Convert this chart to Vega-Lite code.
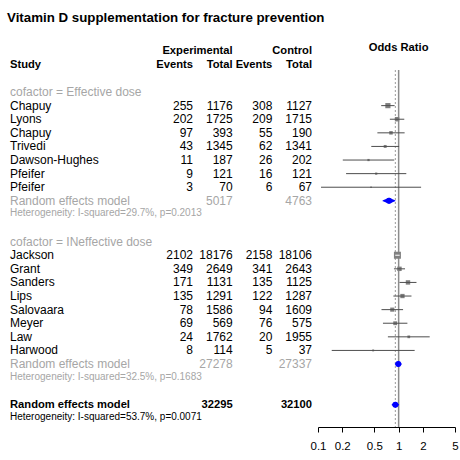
{
  "$schema": "https://vega.github.io/schema/vega-lite/v6.json",
  "width": 460,
  "height": 357,
  "autosize": "none",
  "padding": {"left": 0, "top": 70, "right": 0, "bottom": 33},
  "background": "white",
  "title": {
    "text": "Vitamin D supplementation for fracture prevention",
    "anchor": "start",
    "font": "Liberation Sans",
    "fontSize": 13.3,
    "fontWeight": "bold",
    "color": "black",
    "offset": 18,
    "dx": 7
  },
  "config": {
    "view": {"stroke": null},
    "font": "Liberation Sans",
    "text": {"font": "Liberation Sans", "baseline": "middle"}
  },
  "datasets": {
    "rows": [
      {"row": 0, "kind": "subgroup", "label": "cofactor = Effective dose"},
      {"row": 1, "kind": "study", "label": "Chapuy", "ee": 255, "et": 1176, "ce": 308, "ct": 1127, "or": 0.736, "lo": 0.608, "hi": 0.891, "weight": 11},
      {"row": 2, "kind": "study", "label": "Lyons", "ee": 202, "et": 1725, "ce": 209, "ct": 1715, "or": 0.956, "lo": 0.778, "hi": 1.175, "weight": 8},
      {"row": 3, "kind": "study", "label": "Chapuy", "ee": 97, "et": 393, "ce": 55, "ct": 190, "or": 0.804, "lo": 0.545, "hi": 1.186, "weight": 5},
      {"row": 4, "kind": "study", "label": "Trivedi", "ee": 43, "et": 1345, "ce": 62, "ct": 1341, "or": 0.681, "lo": 0.458, "hi": 1.013, "weight": 3.5},
      {"row": 5, "kind": "study", "label": "Dawson-Hughes", "ee": 11, "et": 187, "ce": 26, "ct": 202, "or": 0.423, "lo": 0.203, "hi": 0.882, "weight": 2},
      {"row": 6, "kind": "study", "label": "Pfeifer", "ee": 9, "et": 121, "ce": 16, "ct": 121, "or": 0.527, "lo": 0.223, "hi": 1.245, "weight": 2},
      {"row": 7, "kind": "study", "label": "Pfeifer", "ee": 3, "et": 70, "ce": 6, "ct": 67, "or": 0.455, "lo": 0.109, "hi": 1.899, "weight": 1},
      {"row": 8, "kind": "re", "label": "Random effects model", "et": 5017, "ct": 4763, "or": 0.76, "lo": 0.64, "hi": 0.9},
      {"row": 9, "kind": "het", "label": "Heterogeneity: I-squared=29.7%, p=0.2013"},
      {"row": 11, "kind": "subgroup", "label": "cofactor = INeffective dose"},
      {"row": 12, "kind": "study", "label": "Jackson", "ee": 2102, "et": 18176, "ce": 2158, "ct": 18106, "or": 0.966, "lo": 0.908, "hi": 1.03, "weight": 20},
      {"row": 13, "kind": "study", "label": "Grant", "ee": 349, "et": 2649, "ce": 341, "ct": 2643, "or": 1.024, "lo": 0.875, "hi": 1.2, "weight": 8},
      {"row": 14, "kind": "study", "label": "Sanders", "ee": 171, "et": 1131, "ce": 135, "ct": 1125, "or": 1.306, "lo": 1.025, "hi": 1.664, "weight": 8},
      {"row": 15, "kind": "study", "label": "Lips", "ee": 135, "et": 1291, "ce": 122, "ct": 1287, "or": 1.115, "lo": 0.861, "hi": 1.443, "weight": 7.5},
      {"row": 16, "kind": "study", "label": "Salovaara", "ee": 78, "et": 1586, "ce": 94, "ct": 1609, "or": 0.834, "lo": 0.613, "hi": 1.135, "weight": 7},
      {"row": 17, "kind": "study", "label": "Meyer", "ee": 69, "et": 569, "ce": 76, "ct": 575, "or": 0.906, "lo": 0.639, "hi": 1.284, "weight": 6},
      {"row": 18, "kind": "study", "label": "Law", "ee": 24, "et": 1762, "ce": 20, "ct": 1955, "or": 1.336, "lo": 0.736, "hi": 2.427, "weight": 3},
      {"row": 19, "kind": "study", "label": "Harwood", "ee": 8, "et": 114, "ce": 5, "ct": 37, "or": 0.483, "lo": 0.148, "hi": 1.58, "weight": 1.5},
      {"row": 20, "kind": "re", "label": "Random effects model", "et": 27278, "ct": 27337, "or": 0.99, "lo": 0.91, "hi": 1.08},
      {"row": 21, "kind": "het", "label": "Heterogeneity: I-squared=32.5%, p=0.1683"},
      {"row": 23, "kind": "overall", "label": "Random effects model", "et": 32295, "ct": 32100, "or": 0.91, "lo": 0.83, "hi": 1.0},
      {"row": 24, "kind": "ohet", "label": "Heterogeneity: I-squared=53.7%, p=0.0071"}
    ],
    "headers": [
      {"row": -2, "col": "study", "kind": "header", "text": "Study"},
      {"row": -3, "col": "et", "kind": "header", "text": "Experimental"},
      {"row": -3, "col": "ct", "kind": "header", "text": "Control"},
      {"row": -2, "col": "ee", "kind": "header", "text": "Events"},
      {"row": -2, "col": "et", "kind": "header", "text": "Total"},
      {"row": -2, "col": "ce", "kind": "header", "text": "Events"},
      {"row": -2, "col": "ct", "kind": "header", "text": "Total"},
      {"row": -3, "col": "forest", "kind": "header", "text": "Odds Ratio"}
    ]
  },
  "layer": [
    {
      "data": {"name": "rows"},
      "encoding": {
        "x": {"datum": "study", "type": "nominal", "scale": {"type": "point", "domain": ["study"], "range": [10, 10], "padding": 0}, "axis": null},
        "y": {"field": "row", "type": "quantitative", "scale": {"domain": [-1.62, 24.63], "reverse": true, "nice": false, "zero": false}, "axis": null},
        "color": {
          "field": "kind",
          "type": "nominal",
          "scale": {
            "domain": ["study", "subgroup", "re", "het", "overall", "ohet", "header"],
            "range": ["black", "#a6a6a6", "#a6a6a6", "#a6a6a6", "black", "black", "black"]
          },
          "legend": null
        }
      },
      "layer": [
        {
          "transform": [{"filter": "indexof(['study', 'subgroup', 're'], datum.kind) >= 0"}],
          "mark": {"type": "text", "align": "left", "fontSize": 12},
          "encoding": {"text": {"field": "label"}}
        },
        {
          "transform": [{"filter": "datum.kind === 'het' || datum.kind === 'ohet'"}],
          "mark": {"type": "text", "align": "left", "fontSize": 10, "dy": -1},
          "encoding": {"text": {"field": "label"}}
        },
        {
          "transform": [{"filter": "datum.kind === 'overall'"}],
          "mark": {"type": "text", "align": "left", "fontSize": 11.2, "fontWeight": "bold"},
          "encoding": {"text": {"field": "label"}}
        },
        {
          "data": {"name": "headers"},
          "transform": [{"filter": "datum.col === 'study'"}],
          "mark": {"type": "text", "align": "left", "fontSize": 11.2, "fontWeight": "bold"},
          "encoding": {"text": {"field": "text"}}
        }
      ]
    },
    {
      "data": {"name": "rows"},
      "encoding": {
        "x": {"field": "col", "type": "nominal", "scale": {"type": "point", "domain": ["ee", "et", "ce", "ct"], "range": [193, 312], "padding": 0}, "axis": null},
        "y": {"field": "row", "type": "quantitative", "scale": {"domain": [-1.62, 24.63], "reverse": true, "nice": false, "zero": false}, "axis": null},
        "color": {"field": "kind", "type": "nominal", "legend": null}
      },
      "layer": [
        {
          "transform": [
            {"fold": ["ee", "et", "ce", "ct"], "as": ["col", "n"]},
            {"filter": "isValid(datum.n) && datum.kind !== 'overall'"}
          ],
          "mark": {"type": "text", "align": "right", "fontSize": 12},
          "encoding": {"text": {"field": "n", "type": "nominal"}}
        },
        {
          "transform": [
            {"fold": ["ee", "et", "ce", "ct"], "as": ["col", "n"]},
            {"filter": "isValid(datum.n) && datum.kind === 'overall'"}
          ],
          "mark": {"type": "text", "align": "right", "fontSize": 11.2, "fontWeight": "bold"},
          "encoding": {"text": {"field": "n", "type": "nominal"}}
        },
        {
          "data": {"name": "headers"},
          "transform": [{"filter": "indexof(['ee', 'et', 'ce', 'ct'], datum.col) >= 0"}],
          "mark": {"type": "text", "align": "right", "fontSize": 11.2, "fontWeight": "bold"},
          "encoding": {"text": {"field": "text"}}
        }
      ]
    },
    {
      "data": {"name": "rows"},
      "layer": [
        {
          "data": {"values": [{}]},
          "mark": {"type": "rule", "color": "#8c8c8c", "strokeWidth": 1.5},
          "encoding": {
            "x": {
              "datum": 1,
              "type": "quantitative",
              "scale": {"type": "log", "domain": [0.1, 5], "range": [318, 455], "nice": false},
              "axis": {
                "values": [0.1, 0.2, 0.5, 1, 2, 5],
                "format": "~g",
                "title": null,
                "grid": false,
                "domainColor": "black",
                "domainWidth": 1,
                "tickColor": "black",
                "tickWidth": 1,
                "tickSize": 5,
                "labelFont": "Liberation Sans",
                "labelFontSize": 11.5,
                "labelColor": "black",
                "labelPadding": 8,
                "labelFlush": false,
                "labelOverlap": false
              }
            }
          }
        },
        {
          "transform": [{"filter": "datum.kind === 'overall'"}],
          "mark": {"type": "rule", "color": "#9a9a9a", "strokeDash": [2, 2], "strokeWidth": 1},
          "encoding": {
            "x": {"field": "or", "type": "quantitative", "scale": {"type": "log", "domain": [0.1, 5], "range": [318, 455], "nice": false}}
          }
        },
        {
          "transform": [{"filter": "datum.kind === 'study'"}],
          "mark": {"type": "point", "shape": "square", "filled": true, "color": "#808080", "opacity": 1},
          "encoding": {
            "x": {"field": "or", "type": "quantitative", "scale": {"type": "log", "domain": [0.1, 5], "range": [318, 455], "nice": false}},
            "y": {"field": "row", "type": "quantitative", "scale": {"domain": [-1.62, 24.63], "reverse": true, "nice": false, "zero": false}, "axis": null},
            "size": {"field": "weight", "type": "quantitative", "scale": {"domain": [0, 20], "range": [0, 49], "zero": true}, "legend": null}
          }
        },
        {
          "transform": [{"filter": "datum.kind === 'study'"}],
          "mark": {"type": "rule", "strokeWidth": 1},
          "encoding": {
            "x": {"field": "lo", "type": "quantitative", "scale": {"type": "log", "domain": [0.1, 5], "range": [318, 455], "nice": false}},
            "x2": {"field": "hi"},
            "y": {"field": "row", "type": "quantitative", "scale": {"domain": [-1.62, 24.63], "reverse": true, "nice": false, "zero": false}, "axis": null},
            "color": {"condition": {"test": "datum.hi / datum.lo < 1.15", "value": "white"}, "value": "#4d4d4d"}
          }
        },
        {
          "layer": [
            {
              "transform": [
                {"filter": "datum.kind === 're' || datum.kind === 'overall'"},
                {"fold": ["lo", "or"], "as": ["k", "v"]}
              ],
              "mark": {"type": "trail", "color": "blue"},
              "encoding": {
                "x": {"field": "v", "type": "quantitative", "scale": {"type": "log", "domain": [0.1, 5], "range": [318, 455], "nice": false}},
                "y": {"field": "row", "type": "quantitative", "scale": {"domain": [-1.62, 24.63], "reverse": true, "nice": false, "zero": false}, "axis": null},
                "detail": {"field": "row", "type": "nominal"},
                "size": {"field": "k", "type": "ordinal", "scale": {"type": "point", "domain": ["lo", "or"], "range": [0, 6], "padding": 0}, "legend": null}
              }
            },
            {
              "transform": [
                {"filter": "datum.kind === 're' || datum.kind === 'overall'"},
                {"fold": ["or", "hi"], "as": ["k", "v"]}
              ],
              "mark": {"type": "trail", "color": "blue"},
              "encoding": {
                "x": {"field": "v", "type": "quantitative", "scale": {"type": "log", "domain": [0.1, 5], "range": [318, 455], "nice": false}},
                "y": {"field": "row", "type": "quantitative", "scale": {"domain": [-1.62, 24.63], "reverse": true, "nice": false, "zero": false}, "axis": null},
                "detail": {"field": "row", "type": "nominal"},
                "size": {"field": "k", "type": "ordinal", "scale": {"type": "point", "domain": ["hi", "or"], "range": [0, 6], "padding": 0}, "legend": null}
              }
            }
          ],
          "resolve": {"scale": {"size": "independent"}}
        },
        {
          "data": {"name": "headers"},
          "transform": [{"filter": "datum.col === 'forest'"}],
          "mark": {"type": "text", "align": "center", "fontSize": 11.2, "fontWeight": "bold", "color": "black", "dy": -3},
          "encoding": {
            "x": {"datum": 1, "type": "quantitative", "scale": {"type": "log", "domain": [0.1, 5], "range": [318, 455], "nice": false}},
            "y": {"field": "row", "type": "quantitative", "scale": {"domain": [-1.62, 24.63], "reverse": true, "nice": false, "zero": false}, "axis": null},
            "text": {"field": "text"}
          }
        }
      ],
      "resolve": {"scale": {"size": "independent"}}
    }
  ],
  "resolve": {"scale": {"x": "independent"}}
}
